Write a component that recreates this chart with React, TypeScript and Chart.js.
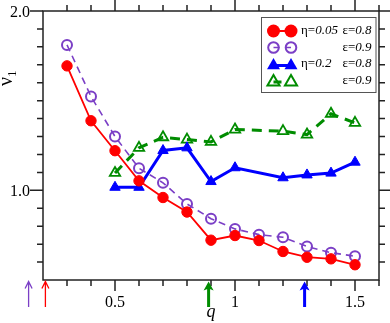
import React, { useEffect, useRef } from "react";
import { Chart, registerables } from "chart.js";

Chart.register(...registerables);

// ---- data ----
const qA = [0.3, 0.4, 0.5, 0.6, 0.7, 0.8, 0.9, 1.0, 1.1, 1.2, 1.3, 1.4, 1.5];
const red_eta005_eps08 = [1.694, 1.388, 1.221, 1.053, 0.960, 0.879, 0.722, 0.748, 0.720, 0.659, 0.627, 0.618, 0.585];
const purple_eta005_eps09 = [1.811, 1.523, 1.300, 1.123, 1.042, 0.924, 0.842, 0.785, 0.753, 0.738, 0.687, 0.652, 0.633];

const qB = [0.5, 0.6, 0.7, 0.8, 0.9, 1.0, 1.2, 1.3, 1.4, 1.5];
const blue_eta02_eps08 = [1.017, 1.017, 1.222, 1.237, 1.049, 1.126, 1.070, 1.086, 1.096, 1.157];
const green_eta02_eps09 = [1.097, 1.237, 1.296, 1.283, 1.270, 1.339, 1.330, 1.311, 1.427, 1.376];

const arrowQ = [0.14, 0.21, 0.89, 1.29];
const arrowColors = ["#7b3fc6", "#ff0000", "#008c00", "#0000ff"];
const arrowThick = [false, false, true, true];

const xMajorTicks = [0.5, 1.0, 1.5];
const xTickLabels = ["0.5", "1", "1.5"];
const xMinorTicks = [0.3, 0.4, 0.6, 0.7, 0.8, 0.9, 1.1, 1.2, 1.3, 1.4, 1.6];
const yMajorTicks = [1.0, 2.0];
const yTickLabels = ["1.0", "2.0"];
const yMinorTicks = [0.6, 0.7, 0.8, 0.9, 1.1, 1.2, 1.3, 1.4, 1.5, 1.6, 1.7, 1.8, 1.9];

const RED = "#ff0000";
const PURPLE = "#7b3fc6";
const BLUE = "#0000ff";
const GREEN = "#008c00";

const SERIF = "'Liberation Serif', 'DejaVu Serif', serif";

function pts(xs: number[], ys: number[]) {
  return xs.map((x, i) => ({ x, y: ys[i] }));
}

function tri(ctx: CanvasRenderingContext2D, x: number, y: number, r: number) {
  ctx.beginPath();
  for (let k = 0; k < 3; k++) {
    const a = (k * 2 * Math.PI) / 3;
    const px = x + Math.sin(a) * r;
    const py = y - Math.cos(a) * r;
    if (k === 0) ctx.moveTo(px, py);
    else ctx.lineTo(px, py);
  }
  ctx.closePath();
}

const decorPlugin = {
  id: "decor",
  afterDraw(chart: any) {
    const ctx: CanvasRenderingContext2D = chart.ctx;
    const { left, right, top, bottom } = chart.chartArea;
    const xs = chart.scales.x;
    const ys = chart.scales.y;
    ctx.save();

    // frame
    ctx.strokeStyle = "#222";
    ctx.lineWidth = 1.5;
    ctx.setLineDash([]);
    ctx.strokeRect(left, top, right - left, bottom - top);

    // ticks
    const majLen = 11;
    const minLen = 6;
    const xt = (v: number, len: number) => {
      const p = xs.getPixelForValue(v);
      ctx.beginPath();
      ctx.moveTo(p, bottom);
      ctx.lineTo(p, bottom + len);
      ctx.moveTo(p, top);
      ctx.lineTo(p, top - len);
      ctx.stroke();
    };
    const yt = (v: number, len: number) => {
      const p = ys.getPixelForValue(v);
      ctx.beginPath();
      ctx.moveTo(left, p);
      ctx.lineTo(left - len, p);
      ctx.moveTo(right, p);
      ctx.lineTo(right + len, p);
      ctx.stroke();
    };
    xMajorTicks.forEach((v) => xt(v, majLen));
    xMinorTicks.forEach((v) => xt(v, minLen));
    yMajorTicks.forEach((v) => yt(v, 13));
    yMinorTicks.forEach((v) => yt(v, minLen));

    // tick labels
    ctx.fillStyle = "#000";
    ctx.font = `16px ${SERIF}`;
    ctx.textBaseline = "alphabetic";
    ctx.textAlign = "center";
    xMajorTicks.forEach((v, i) => {
      ctx.fillText(xTickLabels[i], xs.getPixelForValue(v), 306.5);
    });
    ctx.textAlign = "right";
    yMajorTicks.forEach((v, i) => {
      ctx.fillText(yTickLabels[i], 30, ys.getPixelForValue(v) + 6);
    });

    // axis titles
    ctx.textAlign = "center";
    ctx.font = `italic 18px ${SERIF}`;
    ctx.fillText("q", 211, 317);
    ctx.save();
    ctx.translate(12, 86);
    ctx.rotate(-Math.PI / 2);
    ctx.textAlign = "left";
    ctx.font = `20px ${SERIF}`;
    ctx.fillText("ν", 0, 0);
    const w = ctx.measureText("ν").width;
    ctx.font = `13px ${SERIF}`;
    ctx.fillText("1", w, 4);
    ctx.restore();

    // arrows below the axis
    arrowQ.forEach((q, i) => {
      const x = xs.getPixelForValue(q);
      const tipY = bottom + 1.5;
      const endY = 307;
      ctx.strokeStyle = arrowColors[i];
      ctx.fillStyle = arrowColors[i];
      if (arrowThick[i]) {
        ctx.lineWidth = 3;
        ctx.beginPath();
        ctx.moveTo(x, endY);
        ctx.lineTo(x, tipY + 6);
        ctx.stroke();
        ctx.beginPath();
        ctx.moveTo(x, tipY);
        ctx.lineTo(x - 5, tipY + 9);
        ctx.lineTo(x, tipY + 7);
        ctx.lineTo(x + 5, tipY + 9);
        ctx.closePath();
        ctx.fill();
      } else {
        ctx.lineWidth = 1.3;
        ctx.beginPath();
        ctx.moveTo(x, endY);
        ctx.lineTo(x, tipY);
        ctx.moveTo(x - 3.5, tipY + 7);
        ctx.lineTo(x, tipY);
        ctx.lineTo(x + 3.5, tipY + 7);
        ctx.stroke();
      }
    });

    // legend
    const bx = 261.5, by = 17.5, bw = 114.5, bh = 75;
    ctx.fillStyle = "#fff";
    ctx.fillRect(bx, by, bw, bh);
    ctx.strokeStyle = "#555";
    ctx.lineWidth = 1;
    ctx.setLineDash([]);
    ctx.strokeRect(bx, by, bw, bh);

    const m1 = 273.5, m2 = 291;
    const rows = [31, 47.5, 64, 80.5];
    // row 1: red
    ctx.strokeStyle = RED;
    ctx.fillStyle = RED;
    ctx.lineWidth = 2;
    ctx.beginPath();
    ctx.moveTo(m1, rows[0]);
    ctx.lineTo(m2, rows[0]);
    ctx.stroke();
    [m1, m2].forEach((mx) => {
      ctx.beginPath();
      ctx.arc(mx, rows[0], 6.5, 0, Math.PI * 2);
      ctx.fill();
    });
    // row 2: purple
    ctx.strokeStyle = PURPLE;
    ctx.lineWidth = 1.5;
    ctx.beginPath();
    ctx.moveTo(m1, rows[1]);
    ctx.lineTo(m1 + 6, rows[1]);
    ctx.moveTo(m2 - 6, rows[1]);
    ctx.lineTo(m2, rows[1]);
    ctx.stroke();
    ctx.lineWidth = 2;
    [m1, m2].forEach((mx) => {
      ctx.beginPath();
      ctx.arc(mx, rows[1], 5.3, 0, Math.PI * 2);
      ctx.stroke();
    });
    // row 3: blue
    ctx.strokeStyle = BLUE;
    ctx.fillStyle = BLUE;
    ctx.lineWidth = 3;
    ctx.beginPath();
    ctx.moveTo(m1, rows[2] + 1.5);
    ctx.lineTo(m2, rows[2] + 1.5);
    ctx.stroke();
    [m1, m2].forEach((mx) => {
      tri(ctx, mx, rows[2] + 1.5, 7.5);
      ctx.fill();
    });
    // row 4: green
    ctx.strokeStyle = GREEN;
    ctx.lineWidth = 3;
    ctx.beginPath();
    ctx.moveTo(m1, rows[3] + 1.5);
    ctx.lineTo(m1 + 8, rows[3] + 1.5);
    ctx.stroke();
    ctx.lineWidth = 2;
    [m1, m2].forEach((mx) => {
      tri(ctx, mx, rows[3] + 1.5, 7);
      ctx.stroke();
    });

    // legend texts
    ctx.fillStyle = "#000";
    ctx.textAlign = "left";
    ctx.textBaseline = "middle";
    const part = (x: number, y: number, normal: string, ital: string) => {
      ctx.font = `13px ${SERIF}`;
      ctx.fillText(normal, x, y);
      const w1 = ctx.measureText(normal).width;
      ctx.font = `italic 13px ${SERIF}`;
      ctx.fillText(ital, x + w1, y);
    };
    part(301, rows[0], "η=", "0.05");
    part(342.5, rows[0], "ε=", "0.8");
    part(342.5, rows[1], "ε=", "0.9");
    part(301, rows[2], "η=", "0.2");
    part(342.5, rows[2], "ε=", "0.8");
    part(342.5, rows[3], "ε=", "0.9");

    ctx.restore();
  },
};

export default function App() {
  const ref = useRef<HTMLCanvasElement | null>(null);
  useEffect(() => {
    if (!ref.current) return;
    const chart = new Chart(ref.current, {
      type: "scatter",
      data: {
        datasets: [
          {
            label: "η=0.05 ε=0.8",
            data: pts(qA, red_eta005_eps08),
            showLine: true,
            borderColor: RED,
            backgroundColor: RED,
            borderWidth: 1.8,
            pointRadius: 5.2,
            pointBorderWidth: 1,
            pointBorderColor: RED,
            pointBackgroundColor: RED,
            pointStyle: "circle",
          },
          {
            label: "ε=0.9",
            data: pts(qA, purple_eta005_eps09),
            showLine: true,
            borderColor: PURPLE,
            backgroundColor: "rgba(0,0,0,0)",
            borderWidth: 1.6,
            borderDash: [7, 5],
            pointRadius: 5,
            pointBorderWidth: 2,
            pointBorderColor: PURPLE,
            pointBackgroundColor: "rgba(0,0,0,0)",
            pointStyle: "circle",
          },
          {
            label: "η=0.2 ε=0.8",
            data: pts(qB, blue_eta02_eps08),
            showLine: true,
            borderColor: BLUE,
            backgroundColor: BLUE,
            borderWidth: 3,
            pointRadius: 6,
            pointBorderWidth: 1,
            pointBorderColor: BLUE,
            pointBackgroundColor: BLUE,
            pointStyle: "triangle",
          },
          {
            label: "ε=0.9",
            data: pts(qB, green_eta02_eps09),
            showLine: true,
            borderColor: GREEN,
            backgroundColor: "rgba(0,0,0,0)",
            borderWidth: 3,
            borderDash: [10, 7],
            pointRadius: 6,
            pointBorderWidth: 1.8,
            pointBorderColor: GREEN,
            pointBackgroundColor: "rgba(0,0,0,0)",
            pointStyle: "triangle",
          },
        ],
      },
      options: {
        responsive: false,
        animation: false,
        devicePixelRatio: 1,
        layout: { padding: { left: 43, right: 11, top: 11, bottom: 43 } },
        scales: {
          x: { type: "linear", min: 0.2, max: 1.6, display: false },
          y: { type: "linear", min: 0.5, max: 2.0, display: false },
        },
        plugins: { legend: { display: false }, tooltip: { enabled: false } },
        elements: { line: { tension: 0 } },
      },
      plugins: [decorPlugin],
    } as any);
    return () => chart.destroy();
  }, []);
  return (
    <div style={{ position: "fixed", left: 0, top: 0, width: 390, height: 323, background: "#fff" }}>
      <canvas ref={ref} width={390} height={323} style={{ display: "block", width: 390, height: 323 }} />
    </div>
  );
}
